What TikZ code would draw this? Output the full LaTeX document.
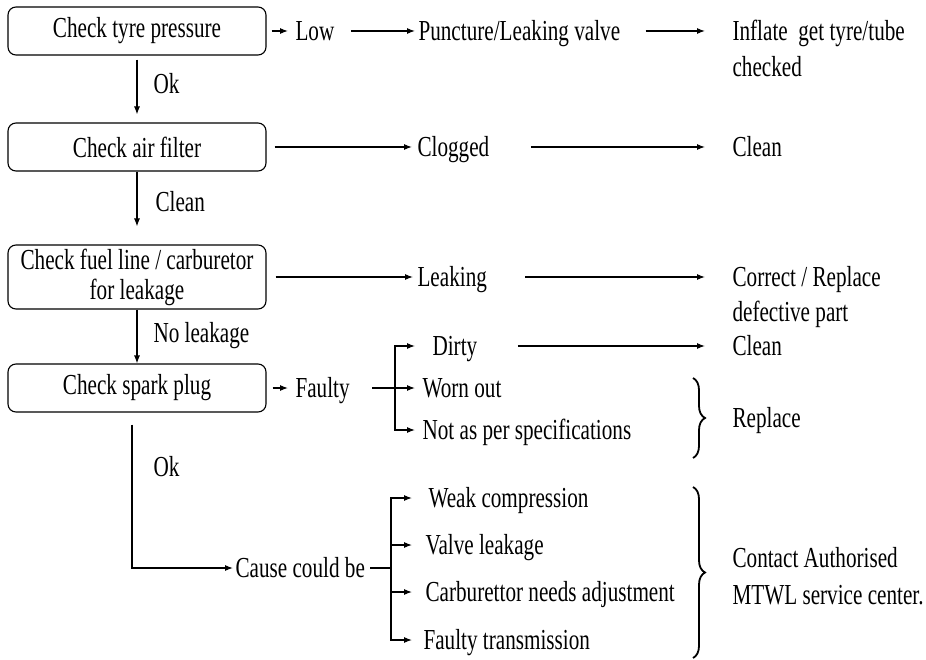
\documentclass[tikz,border=0pt]{standalone}
\usepackage{fontspec}
\setmainfont[FakeStretch=0.73]{Liberation Serif}
\usetikzlibrary{arrows.meta,decorations.pathreplacing,calc}
\begin{document}
\begin{tikzpicture}[x=1pt,y=-1pt,
  font=\fontsize{29}{36}\selectfont,
  line width=1.1pt,
  box/.style={draw, rounded corners=8pt, minimum width=258pt, inner sep=0pt, align=center},
  lbl/.style={anchor=west, inner sep=0pt, text height=19pt, text depth=0pt},
  arr/.style={-{Latex[length=8pt,width=6pt]}},
  brc/.style={decorate, decoration={brace, amplitude=12pt}, line width=1.8pt}]
\useasboundingbox (0,0) rectangle (926,660);

% boxes
\node[box, minimum height=48pt] (b1) at (137,31) {Check tyre pressure};
\node[box, minimum height=48pt] (b2) at (137,147) {Check air filter};
\node[box, minimum height=64pt, font=\fontsize{29}{30}\selectfont] (b3) at (137,277) {Check fuel line / carburetor\\for leakage};
\node[box, minimum height=48pt] (b4) at (137,388) {Check spark plug};

% edge labels
\node[lbl] (ok1) at (153,84) {Ok};
\node[lbl] (cl0) at (155,202) {Clean};
\node[lbl] (nol) at (153,333) {No leakage};
\node[lbl] (ok2) at (153,467) {Ok};

% row 1
\node[lbl] (low) at (295,31) {Low};
\node[lbl] (punc) at (418,31) {Puncture/Leaking valve};
\node[lbl] (inf1) at (732,31) {Inflate\ \ get tyre/tube};
\node[lbl] (inf2) at (732,67) {checked};
% row 2
\node[lbl] (clog) at (417,147) {Clogged};
\node[lbl] (cln2) at (732,147) {Clean};
% row 3
\node[lbl] (leak) at (417,277) {Leaking};
\node[lbl] (corr1) at (732,277) {Correct / Replace};
\node[lbl] (corr2) at (732,312) {defective part};
% row 4
\node[lbl] (faul) at (295,388) {Faulty};
\node[lbl] (dirty) at (432,346) {Dirty};
\node[lbl] (worn) at (422,388) {Worn out};
\node[lbl] (notp) at (422,430) {Not as per specifications};
\node[lbl] (cln3) at (732,346) {Clean};
\node[lbl] (repl) at (732,418) {Replace};
% row 5
\node[lbl] (cause) at (235,568) {Cause could be};
\node[lbl] (weak) at (428,498) {Weak compression};
\node[lbl] (valve) at (425,545) {Valve leakage};
\node[lbl] (carb) at (425,592) {Carburettor needs adjustment};
\node[lbl] (ftr) at (423,640) {Faulty transmission};
\node[lbl] (cont1) at (732,558) {Contact Authorised};
\node[lbl] (cont2) at (732,595) {MTWL service center.};

\coordinate (fj) at (395,388);
\coordinate (cj) at (391,568);
\coordinate (br1a) at (693,378);
\coordinate (br1b) at (693,458);
\coordinate (br2a) at (693,487);
\coordinate (br2b) at (693,658);

% vertical flow
\draw[arr, shorten <=4pt, shorten >=8pt] (b1) -- (b2);
\draw[arr, shorten >=18pt] (b2) -- (b3);
\draw[arr] (b3) -- (b4);
\draw[arr, shorten <=12pt, shorten >=2pt] ([xshift=-5pt]b4.south) |- (cause.west);

% horizontal
\draw[arr, shorten <=5pt, shorten >=7pt] (b1.east) -- (low.west);
\draw[arr, shorten <=16pt, shorten >=3pt] (low.east) -- (punc.west);
\draw[arr, shorten <=25pt, shorten >=27pt] (punc.east) -- (inf1.west);
\draw[arr, shorten <=8pt, shorten >=5pt] (b2.east) -- (clog.west);
\draw[arr, shorten <=41pt, shorten >=27pt] (clog.east) -- (cln2.west);
\draw[arr, shorten <=9pt, shorten >=4pt] (b3.east) -- (leak.west);
\draw[arr, shorten <=38pt, shorten >=27pt] (leak.east) -- (corr1.west);
\draw[arr, shorten <=6pt, shorten >=7pt] (b4.east) -- (faul.west);
\draw[shorten <=22pt] (faul.east) -- (fj);
\draw[arr, shorten >=7pt] (fj) -- (worn.west);
\draw[arr, shorten >=17pt] (fj) |- (dirty.west);
\draw[arr, shorten >=7pt] (fj) |- (notp.west);
\draw[arr, shorten <=40pt, shorten >=27pt] (dirty.east) -- (cln3.west);
\draw[shorten <=5pt] (cause.east) -- (cj);
\draw[arr, shorten >=16pt] (cj) |- (weak.west);
\draw[arr, shorten >=13pt] (cj) |- (valve.west);
\draw[arr, shorten >=13pt] (cj) |- (carb.west);
\draw[arr, shorten >=11pt] (cj) |- (ftr.west);

% braces
\draw[brc] (br1a) -- (br1b);
\draw[brc] (br2a) -- (br2b);
\end{tikzpicture}
\end{document}
